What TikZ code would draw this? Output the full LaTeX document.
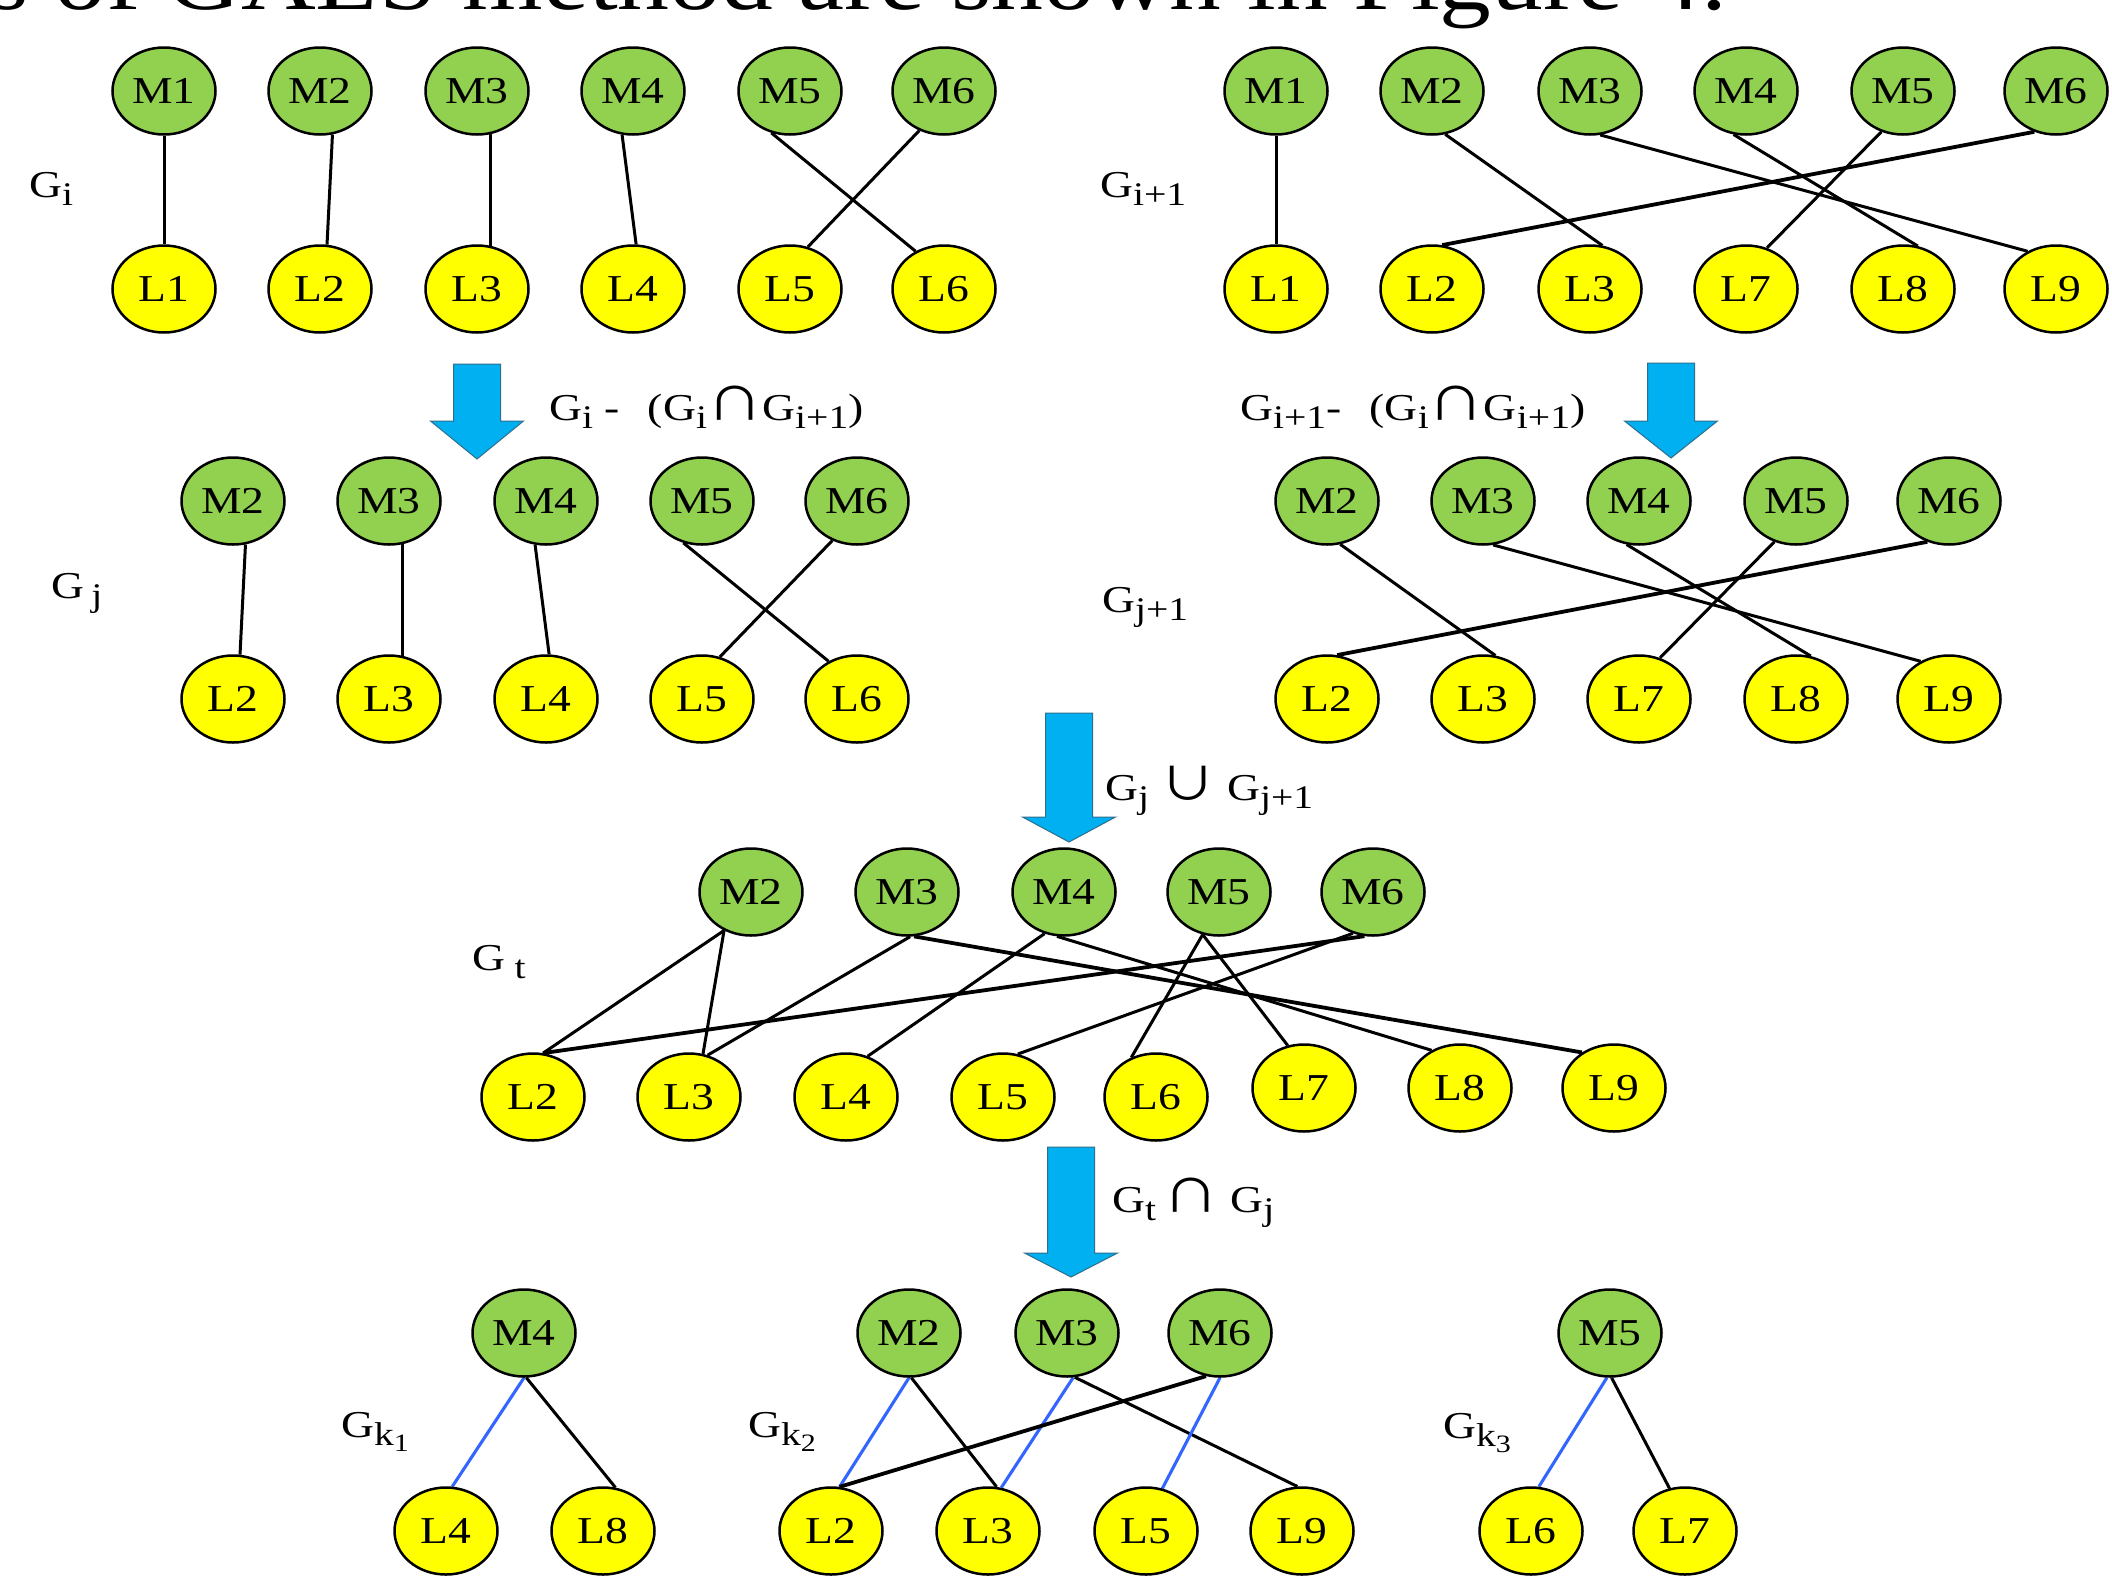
\documentclass[tikz,border=0pt]{standalone}
\usepackage{fontspec}
\usepackage{graphicx}
\setmainfont{Liberation Serif}
\newfontfamily\cjk{Noto Sans CJK SC}
\usetikzlibrary{shapes.geometric}
\pgfdeclarelayer{bg}
\pgfdeclarelayer{edges}
\pgfsetlayers{bg,edges,main}

\definecolor{mgreen}{HTML}{92D050}
\definecolor{lyellow}{HTML}{FFFF00}
\definecolor{arrowblue}{HTML}{00B0F0}
\definecolor{arrowedge}{HTML}{2E6F8E}
\definecolor{linkblue}{HTML}{3366FF}

% text is set slightly widened
\newcommand\nt[1]{\scalebox{1.2}[1]{#1}}
\newcommand\lowsub[1]{\raisebox{-8pt}{\fontsize{33}{36}\selectfont #1}}
\newcommand\lowsubsub[1]{\raisebox{-6pt}{\fontsize{25}{28}\selectfont #1}}
% set operators
\newcommand\capop{{\cjk\fontsize{46}{46}\selectfont ∩}}
\newcommand\cupop{{\cjk\fontsize{46}{46}\selectfont ∪}}
% block arrow pointing down: centre x, top, start of head, tip
\newcommand\downblock[4]{\draw[bigarrow] (#1-23.5,#2) -- (#1+23.5,#2) -- (#1+23.5,#3) -- (#1+46.5,#3) -- (#1,#4) -- (#1-46.5,#3) -- (#1-23.5,#3) -- cycle;}

\begin{document}
\begin{tikzpicture}[x=1pt,y=-1pt,
  base/.style={ellipse, draw, line width=2.5pt, minimum width=103pt, minimum height=87pt, inner sep=0pt, font=\fontsize{38}{40}\selectfont},
  mnode/.style={base, fill=mgreen},
  lnode/.style={base, fill=lyellow},
  edge/.style={line width=3pt},
  heavy/.style={line width=3.8pt},
  bluelink/.style={line width=3.1pt, draw=linkblue},
  glabel/.style={anchor=base west, inner sep=0pt, font=\fontsize{38}{40}\selectfont},
  bigarrow/.style={fill=arrowblue, draw=arrowedge, line width=1pt}]

\path[use as bounding box, clip] (0,0) rectangle (2112,1580);
\begin{pgfonlayer}{bg}
  \fill[white] (0,0) rectangle (2112,1580);
\end{pgfonlayer}

% running text above the figure (only its lower edge lies on the page)
\node[anchor=base west, inner sep=0pt, font=\fontsize{90}{90}\selectfont] (caption) at (-12,9)
  {\scalebox{1.15}[1]{s of GALS method are shown in Figure 4.}};

% ---- G_i
\foreach \n/\x in {1/164,2/320,3/477,4/633,5/790,6/944} {
  \node[mnode] (aM\n) at (\x,91) {\nt{M\n}};
  \node[lnode] (aL\n) at (\x,289) {\nt{L\n}};
}
\node[glabel] (labGi) at (29,197) {\nt{G\lowsub{i}}};

% ---- G_{i+1}
\foreach \n/\x in {1/1276,2/1432,3/1590,4/1746,5/1903,6/2056} {
  \node[mnode] (bM\n) at (\x,91) {\nt{M\n}};
}
\foreach \n/\x in {1/1276,2/1432,3/1590,7/1746,8/1903,9/2056} {
  \node[lnode] (bL\n) at (\x,289) {\nt{L\n}};
}
\node[glabel] (labGi1) at (1100,197) {\nt{G\lowsub{i+1}}};

% ---- G_j
\foreach \n/\x in {2/233,3/389,4/546,5/702,6/857} {
  \node[mnode] (cM\n) at (\x,501) {\nt{M\n}};
  \node[lnode] (cL\n) at (\x,699) {\nt{L\n}};
}
\node[glabel] (labGj) at (51,598) {\nt{G\hspace{6pt}\lowsub{j}}};

% ---- G_{j+1}
\foreach \n/\x in {2/1327,3/1483,4/1639,5/1796,6/1949} {
  \node[mnode] (dM\n) at (\x,501) {\nt{M\n}};
}
\foreach \n/\x in {2/1327,3/1483,7/1639,8/1796,9/1949} {
  \node[lnode] (dL\n) at (\x,699) {\nt{L\n}};
}
\node[glabel] (labGj1) at (1102,612) {\nt{G\lowsub{j+1}}};

% ---- G_t
\foreach \n/\x in {2/751,3/907,4/1064,5/1219,6/1373} {
  \node[mnode] (eM\n) at (\x,892) {\nt{M\n}};
}
\foreach \n/\x in {2/533,3/689,4/846,5/1003,6/1156} {
  \node[lnode] (eL\n) at (\x,1097) {\nt{L\n}};
}
\foreach \n/\x in {7/1304,8/1460,9/1614} {
  \node[lnode] (eL\n) at (\x,1088) {\nt{L\n}};
}
\node[glabel] (labGt) at (472,970) {\nt{G\hspace{8pt}\lowsub{t}}};

% ---- G_{k1}, G_{k2}, G_{k3}
\node[mnode] (fM4) at (524,1333) {\nt{M4}};
\node[lnode] (fL4) at (446,1531) {\nt{L4}};
\node[lnode] (fL8) at (603,1531) {\nt{L8}};
\node[glabel] (labGk1) at (341,1437) {\nt{G\lowsub{k\lowsubsub{1}}}};

\foreach \n/\x in {2/909,3/1067,6/1220} {
  \node[mnode] (gM\n) at (\x,1333) {\nt{M\n}};
}
\foreach \n/\x in {2/831,3/988,5/1146,9/1302} {
  \node[lnode] (gL\n) at (\x,1531) {\nt{L\n}};
}
\node[glabel] (labGk2) at (748,1437) {\nt{G\lowsub{k\lowsubsub{2}}}};

\node[mnode] (hM5) at (1610,1333) {\nt{M5}};
\node[lnode] (hL6) at (1531,1531) {\nt{L6}};
\node[lnode] (hL7) at (1685,1531) {\nt{L7}};
\node[glabel] (labGk3) at (1443,1438) {\nt{G\lowsub{k\lowsubsub{3}}}};

% ---- operation arrows and their labels
\downblock{477}{364}{421}{459}
\node[glabel] (opA) at (549,420) {\nt{G\lowsub{i} - \hspace{14pt}(G\lowsub{i}\capop G\lowsub{i+1})}};
\downblock{1671}{363}{421}{458}
\node[glabel] (opB) at (1240,420) {\nt{G\lowsub{i+1}- \hspace{14pt}(G\lowsub{i}\capop G\lowsub{i+1})}};
\downblock{1069}{713}{817}{842}
\node[glabel] (opC) at (1105,800) {\nt{G\lowsub{j} \cupop{} G\lowsub{j+1}}};
\downblock{1071}{1147}{1253}{1277}
\node[glabel] (opD) at (1112,1212) {\nt{G\lowsub{t}\,\capop{} G\lowsub{j}}};

% ---- connectors
\begin{pgfonlayer}{edges}
  % G_i
  \draw[edge] (aM1.south) -- (aL1.north);
  \draw[edge] (aM2.-74) -- (aL2.81);
  \draw[edge] (aM3.-73) -- (aL3.73);
  \draw[edge] (aM4.-104) -- (aL4.86);
  \draw[edge] (aM5.-114) -- (aL6.127);
  \draw[edge] (aM6.-122) -- (aL5.67);
  % G_{i+1}
  \draw[edge] (bM1.south) -- (bL1.north);
  \draw[edge] (bM2.-73) -- (bL3.74);
  \draw[edge] (bM3.-77) -- (bL9.127);
  \draw[edge] (bM4.-106) -- (bL8.71);
  \draw[edge] (bM5.-118) -- (bL7.63);
  \draw[heavy] (bM6.-118) -- (bL2.77);
  % G_j
  \draw[edge] (cM2.-74) -- (cL2.81);
  \draw[edge] (cM3.-73) -- (cL3.73);
  \draw[edge] (cM4.-104) -- (cL4.86);
  \draw[edge] (cM5.-114) -- (cL6.127);
  \draw[edge] (cM6.-122) -- (cL5.67);
  % G_{j+1}
  \draw[edge] (dM2.-73) -- (dL3.74);
  \draw[edge] (dM3.-77) -- (dL9.127);
  \draw[edge] (dM4.-106) -- (dL8.71);
  \draw[edge] (dM5.-118) -- (dL7.63);
  \draw[heavy] (dM6.-118) -- (dL2.77);
  % G_t
  \draw[edge] (eM2.-125) -- (eL2.77);
  \draw[edge] (eM2.-125) -- (eL3.72);
  \draw[edge] (eM3.-86) -- (eL3.66);
  \draw[heavy] (eM3.-81) -- (eL9.132);
  \draw[edge] (eM4.-115) -- (eL4.62);
  \draw[edge] (eM4.-99) -- (eL8.127);
  \draw[edge] (eM5.-111) -- (eL6.122);
  \draw[edge] (eM5.-111) -- (eL7.111);
  \draw[edge] (eM6.-116) -- (eL5.71);
  \draw[heavy] (eM6.-101) -- (eL2.77);
  % G_{k1}
  \draw[bluelink] (fM4.-90) -- (fL4.82);
  \draw[edge] (fM4.-87) -- (fL8.74);
  % G_{k2}
  \draw[bluelink] (gM2.-90) -- (gL2.79);
  \draw[edge] (gM2.-87) -- (gL3.79);
  \draw[bluelink] (gM3.-82) -- (gL3.73);
  \draw[edge] (gM3.-80) -- (gL9.96);
  \draw[heavy] (gM6.-108) -- (gL2.79);
  \draw[bluelink] (gM6.-90) -- (gL5.69);
  % G_{k3}
  \draw[bluelink] (hM5.-94) -- (hL6.80);
  \draw[edge] (hM5.-88) -- (hL7.110);
\end{pgfonlayer}
\end{tikzpicture}
\end{document}
